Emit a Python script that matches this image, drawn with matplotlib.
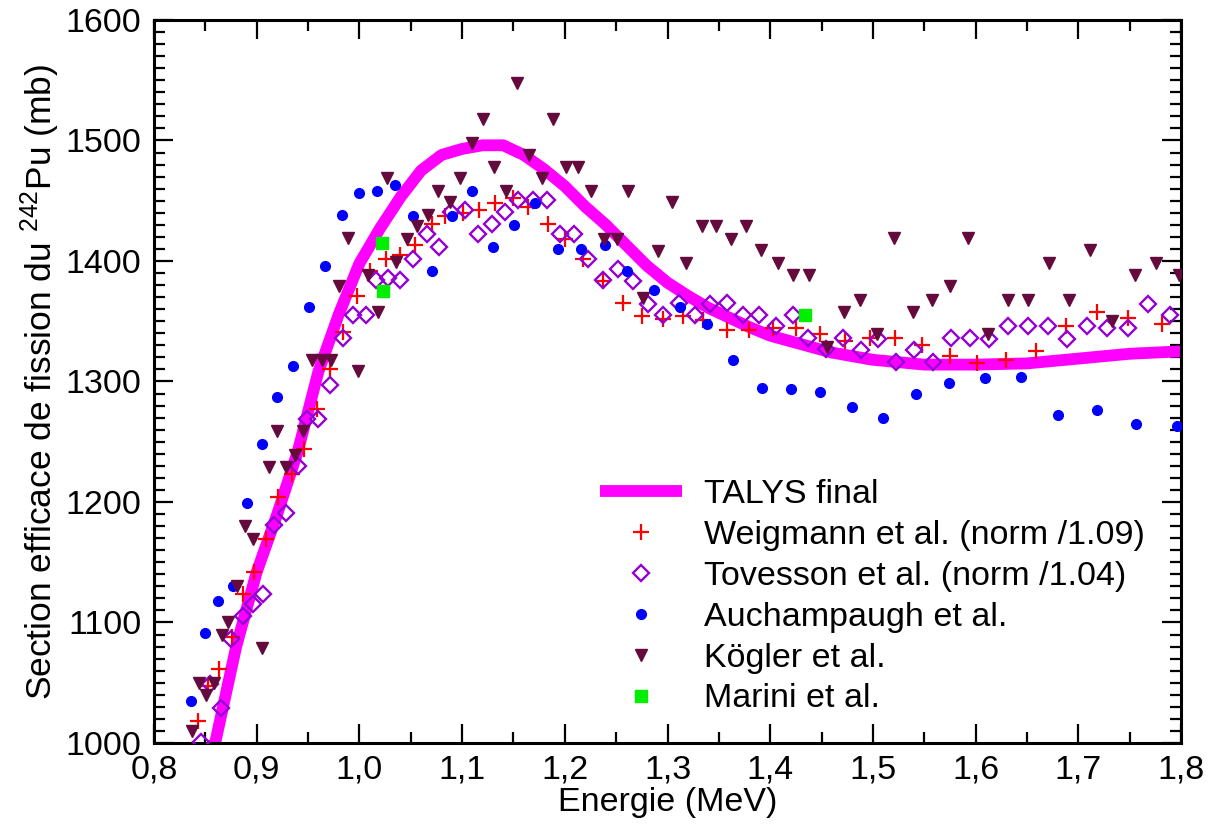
import matplotlib
matplotlib.use('Agg')
import matplotlib.pyplot as plt
from matplotlib.ticker import MultipleLocator, FuncFormatter

plt.rcParams['font.family'] = ['Liberation Sans', 'DejaVu Sans']
plt.rcParams['mathtext.fontset'] = 'custom'
plt.rcParams['mathtext.rm'] = 'Liberation Sans'
plt.rcParams['mathtext.default'] = 'rm'

# TALYS final (courbe)
talys_e = [0.85, 0.86, 0.88, 0.90, 0.92, 0.94, 0.96, 0.98, 1.00, 1.02, 1.04, 1.06,
           1.08, 1.10, 1.12, 1.14, 1.16, 1.18, 1.20, 1.22, 1.24, 1.26, 1.28, 1.30,
           1.32, 1.34, 1.36, 1.38, 1.40, 1.43, 1.46, 1.50, 1.55, 1.60, 1.65, 1.70,
           1.75, 1.80]
talys_s = [985, 1002, 1080, 1142, 1190, 1242, 1308, 1356, 1398, 1427, 1453, 1475,
           1488, 1493, 1496, 1496, 1488, 1476, 1462, 1445, 1430, 1413, 1396, 1382,
           1371, 1361, 1353, 1345, 1338, 1331, 1324, 1318, 1314, 1314, 1315, 1319,
           1323, 1325]

# Weigmann et al. (norm /1.09)
weig_e = [0.8425, 0.8529, 0.8636, 0.8757, 0.8864, 0.8977, 0.9091, 0.9211, 0.9341,
          0.9464, 0.9584, 0.9714, 0.9843, 0.9980, 1.0103, 1.0259, 1.0395, 1.0541,
          1.0704, 1.0833, 1.1006, 1.1167, 1.1320, 1.1499, 1.1645, 1.1839, 1.2002,
          1.2180, 1.2369, 1.2564, 1.2749, 1.2959, 1.3148, 1.3349, 1.3577, 1.3797,
          1.4030, 1.4251, 1.4485, 1.4728, 1.4972, 1.5215, 1.5475, 1.5751, 1.6017,
          1.6296, 1.6588, 1.6880, 1.7179, 1.7487, 1.7812]
weig_s = [1018, 1047, 1061, 1088, 1124, 1142, 1169, 1204, 1223, 1244, 1277, 1310,
          1341, 1371, 1392, 1402, 1405, 1413, 1431, 1437, 1440, 1442, 1448, 1452,
          1445, 1431, 1418, 1402, 1383, 1365, 1354, 1352, 1354, 1351, 1343, 1343,
          1344, 1344, 1339, 1334, 1336, 1336, 1330, 1321, 1315, 1318, 1325, 1346,
          1358, 1353, 1348]

# Tovesson et al. (norm /1.04)
tov_e = [0.8455, 0.8545, 0.8649, 0.8750, 0.8864, 0.8961, 0.9065, 0.9168, 0.9285,
         0.9405, 0.9487, 0.9600, 0.9714, 0.9837, 0.9941, 1.0064, 1.0162, 1.0281,
         1.0395, 1.0525, 1.0655, 1.0778, 1.0892, 1.1028, 1.1158, 1.1288, 1.1418,
         1.1547, 1.1688, 1.1824, 1.1953, 1.2090, 1.2229, 1.2369, 1.2516, 1.2667,
         1.2813, 1.2959, 1.3112, 1.3268, 1.3414, 1.3577, 1.3733, 1.3894, 1.4057,
         1.4219, 1.4371, 1.4543, 1.4712, 1.4881, 1.5053, 1.5225, 1.5400, 1.5588,
         1.5760, 1.5945, 1.6130, 1.6319, 1.6507, 1.6702, 1.6887, 1.7082, 1.7276,
         1.7487, 1.7682, 1.7893]
tov_s = [1001, 1049, 1029, 1086, 1105, 1115, 1124, 1181, 1191, 1230, 1269, 1269,
         1297, 1336, 1355, 1355, 1384, 1386, 1384, 1402, 1422, 1412, 1441, 1442,
         1422, 1431, 1441, 1451, 1451, 1451, 1422, 1422, 1402, 1384, 1393, 1383,
         1364, 1355, 1365, 1355, 1364, 1365, 1355, 1355, 1346, 1355, 1336, 1327,
         1336, 1326, 1335, 1316, 1326, 1316, 1336, 1336, 1335, 1346, 1346, 1346,
         1335, 1346, 1344, 1344, 1364, 1355]

# Auchampaugh et al.
auch_e = [0.8360, 0.8497, 0.8626, 0.8766, 0.8909, 0.9049, 0.9195, 0.9350, 0.9506,
          0.9665, 0.9828, 0.9996, 1.0168, 1.0347, 1.0525, 1.0710, 1.0899, 1.1093,
          1.1298, 1.1505, 1.1710, 1.1937, 1.2155, 1.2392, 1.2603, 1.2869, 1.3122,
          1.3381, 1.3641, 1.3917, 1.4200, 1.4485, 1.4793, 1.5101, 1.5420, 1.5744,
          1.6092, 1.6439, 1.6805, 1.7179, 1.7562, 1.7958]
auch_s = [1035, 1091, 1118, 1130, 1199, 1248, 1287, 1313, 1362, 1396, 1438, 1456,
          1458, 1463, 1437, 1392, 1437, 1458, 1412, 1430, 1448, 1410, 1410, 1413,
          1392, 1376, 1362, 1348, 1318, 1295, 1294, 1291, 1279, 1270, 1290, 1299,
          1303, 1304, 1272, 1276, 1265, 1263]

# Kögler et al.
kog_e = [0.8367, 0.8441, 0.8506, 0.8587, 0.8659, 0.8724, 0.8805, 0.8886, 0.8967,
         0.9049, 0.9123, 0.9202, 0.9285, 0.9373, 0.9454, 0.9535, 0.9633, 0.9721,
         0.9804, 0.9892, 0.9990, 1.0087, 1.0178, 1.0266, 1.0356, 1.0466, 1.0564,
         1.0671, 1.0768, 1.0882, 1.0979, 1.1093, 1.1207, 1.1311, 1.1427, 1.1532,
         1.1654, 1.1775, 1.1888, 1.2012, 1.2132, 1.2252, 1.2382, 1.2511, 1.2619,
         1.2765, 1.2910, 1.3041, 1.3180, 1.3333, 1.3472, 1.3615, 1.3764, 1.3910,
         1.4072, 1.4225, 1.4381, 1.4550, 1.4719, 1.4874, 1.5043, 1.5208, 1.5394,
         1.5573, 1.5751, 1.5929, 1.6124, 1.6319, 1.6514, 1.6718, 1.6913, 1.7114,
         1.7325, 1.7552, 1.7757, 1.7984]
kog_s = [1010, 1050, 1040, 1050, 1090, 1100, 1130, 1180, 1169, 1079, 1229, 1259,
         1229, 1239, 1259, 1318, 1318, 1318, 1379, 1419, 1309, 1388, 1358, 1469,
         1399, 1418, 1429, 1438, 1458, 1449, 1469, 1498, 1518, 1478, 1458, 1548,
         1488, 1469, 1518, 1478, 1478, 1458, 1418, 1418, 1458, 1369, 1408, 1449,
         1398, 1429, 1429, 1418, 1429, 1409, 1398, 1388, 1388, 1329, 1358, 1368,
         1339, 1419, 1358, 1368, 1379, 1419, 1339, 1368, 1368, 1398, 1368, 1409,
         1350, 1388, 1398, 1388]

# Marini et al.
mar_e = [1.0217, 1.0233, 1.4337]
mar_s = [1415, 1375, 1355]

fig = plt.figure(figsize=(12.13, 8.25), dpi=100)
ax = fig.add_axes([0.127, 0.0994, 0.8466, 0.8764])

ax.plot(talys_e, talys_s, color='#ff00ff', lw=8.5, solid_capstyle='butt',
        label='TALYS final', zorder=2)
ax.plot(weig_e, weig_s, ls='none', marker='+', ms=12, mew=1.6, color='#ff0000',
        label='Weigmann et al. (norm /1.09)', zorder=3)
ax.plot(tov_e, tov_s, ls='none', marker='D', ms=8, mew=1.7, mfc='none',
        mec='#9400d3', label='Tovesson et al. (norm /1.04)', zorder=3)
ax.plot(auch_e, auch_s, ls='none', marker='o', ms=7, color='#0000ff',
        label='Auchampaugh et al.', zorder=3)
ax.plot(kog_e, kog_s, ls='none', marker='v', ms=9, color='#640a3c',
        label='Kögler et al.', zorder=3)
ax.plot(mar_e, mar_s, ls='none', marker='s', ms=9, color='#00ee00',
        label='Marini et al.', zorder=4)

ax.set_xlim(0.8, 1.8)
ax.set_ylim(1000, 1600)
ax.xaxis.set_major_locator(MultipleLocator(0.1))
ax.xaxis.set_minor_locator(MultipleLocator(0.05))
ax.yaxis.set_major_locator(MultipleLocator(100))
ax.yaxis.set_minor_locator(MultipleLocator(10))
ax.xaxis.set_major_formatter(FuncFormatter(lambda v, p: f'{v:.1f}'.replace('.', ',')))

ax.tick_params(which='both', direction='in', top=True, right=True, labelsize=24.5)
ax.tick_params(which='major', length=14, width=1.6)
ax.tick_params(which='minor', length=8, width=1.6)
ax.tick_params(axis='y', pad=9)
ax.tick_params(axis='x', pad=8)
for s in ax.spines.values():
    s.set_linewidth(2.2)

ax.set_xlabel('Energie (MeV)', fontsize=24.5, labelpad=1.5)
ax.set_ylabel('Section efficace de fission du $^{242}$Pu (mb)', fontsize=25.5, labelpad=3)

ax.legend(loc='lower left', bbox_to_anchor=(0.418, 0.016), frameon=False, fontsize=24.5,
          handlelength=2.4, handletextpad=0.65, labelspacing=0.29, borderpad=0)

fig.savefig('out.png', dpi=100)
